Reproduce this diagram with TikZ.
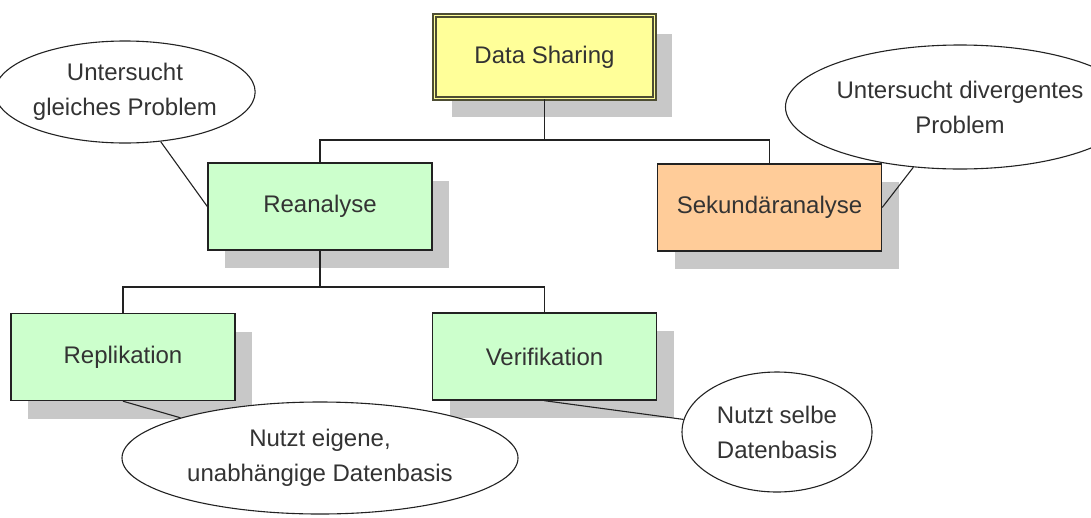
\documentclass[tikz,border=0pt]{standalone}
\usepackage{fontspec}
\setmainfont{Liberation Sans}
\usetikzlibrary{shadows,shapes.geometric}
\definecolor{dsfill}{HTML}{FFFF99}
\definecolor{dsline}{HTML}{4D4D33}
\definecolor{grfill}{HTML}{CCFFCC}
\definecolor{orfill}{HTML}{FFCC99}
\definecolor{shadowgray}{HTML}{C8C8C8}
\definecolor{txt}{HTML}{333333}
\definecolor{ln}{HTML}{222222}
\tikzset{
  box/.style={rectangle, draw=ln, line width=1.4pt, minimum width=224pt, minimum height=87pt,
    inner sep=0pt, text=txt, font=\fontsize{24}{34}\selectfont,
    drop shadow={shadow xshift=17pt, shadow yshift=-18pt, fill=shadowgray, opacity=1}},
  topbox/.style={box, fill=dsfill, draw=dsline, double=dsfill, double distance=1.6pt, line width=1.3pt, minimum width=220pt, minimum height=83pt},
  greenbox/.style={box, fill=grfill},
  orangebox/.style={box, fill=orfill},
  bubble/.style={ellipse, draw=ln, line width=1.1pt, fill=white, inner sep=0pt, text=txt,
    align=center, font=\fontsize{24}{35}\selectfont},
  conn/.style={draw=ln, line width=1.4pt},
  note/.style={draw=ln, line width=1.1pt}
}
\begin{document}
\begin{tikzpicture}[x=1pt,y=-1pt]
\useasboundingbox (0,0) rectangle (1091,517);
% boxes
\node[topbox] (ds) at (544.5,57) {Data Sharing};
\node[greenbox] (re) at (320,206.5) {Reanalyse};
\node[orangebox] (se) at (769.5,207.5) {Sekundäranalyse};
\node[greenbox] (rep) at (123,357) {Replikation};
\node[greenbox] (ver) at (544.5,356.5) {Verifikation};
% bubbles
\node[bubble, minimum width=226pt, minimum height=102pt] (e1) at (125,92) {Untersucht\\gleiches Problem};
\node[bubble, minimum width=262pt, minimum height=124pt] (e2) at (960,107) {Untersucht divergentes\\Problem};
\node[bubble, minimum width=396pt, minimum height=112pt] (e3) at (320,458) {Nutzt eigene,\\unabhängige Datenbasis};
\node[bubble, minimum width=190pt, minimum height=120pt] (e4) at (777,432) {Nutzt selbe\\Datenbasis};
% tree connectors
\coordinate (j1) at (544.5,140);
\coordinate (j2) at (320,287);
\draw[conn] (ds.south) -- (j1);
\draw[conn] (re.north) |- (j1) -| (se.north);
\draw[conn] (re.south) -- (j2);
\draw[conn] (rep.north) |- (j2) -| (ver.north);
% bubble connectors
\draw[note] (re.west) -- (e1);
\draw[note] (se.east) -- (e2);
\draw[note] (rep.south) -- (e3);
\draw[note] (ver.south) -- (e4);
\end{tikzpicture}
\end{document}
